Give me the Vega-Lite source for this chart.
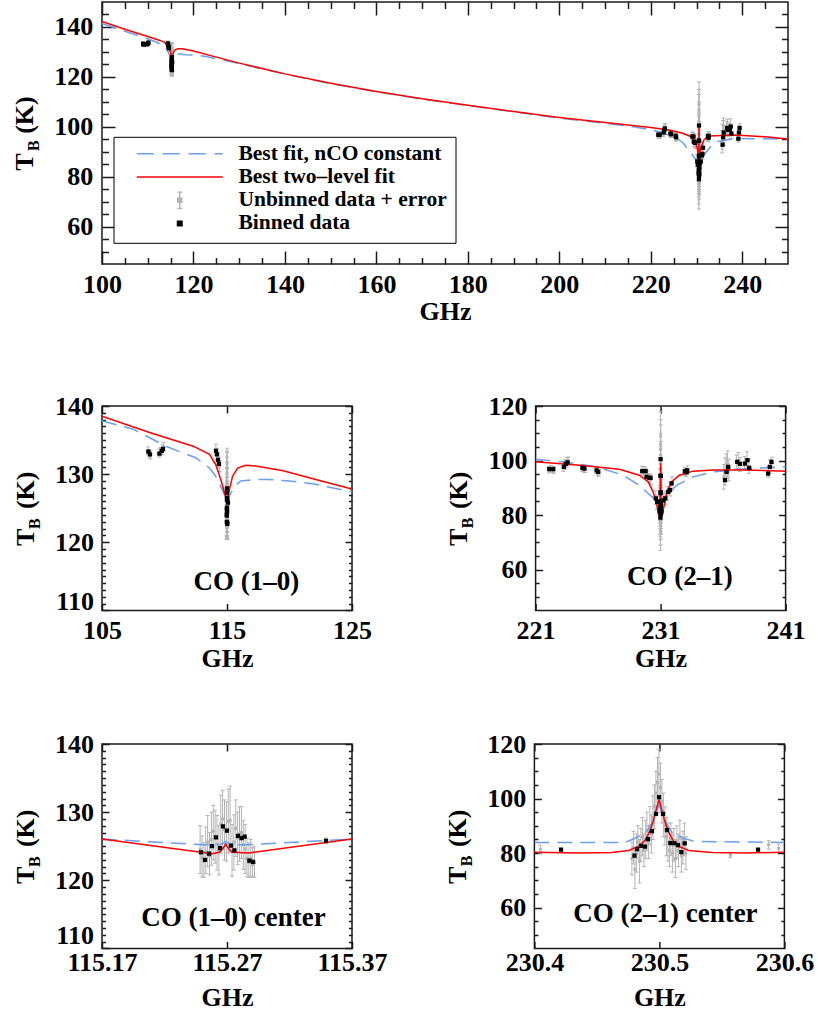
{
"$schema":"https://vega.github.io/schema/vega-lite/v6.json",
"padding":{"left":10,"top":0,"right":5,"bottom":0},
"config":{
 "font":"Liberation Serif",
 "view":{"stroke":"#1a1a1a","strokeWidth":1.5},
 "axis":{"labelFont":"Liberation Serif","labelFontSize":26,"labelFontWeight":"bold","labelColor":"#000","titleFont":"Liberation Serif","titleFontSize":26,"titleFontWeight":"bold","titleColor":"#000","domain":false,"tickColor":"#1a1a1a","tickWidth":1.5,"grid":false,"labelFlush":false,"labelOverlap":false},
 "text":{"font":"Liberation Serif"}
},
"datasets":{
"leg":[{"s":"Best fit, nCO constant"},{"s":"Best two–level fit"},{"s":"Unbinned data + error"},{"s":"Binned data"}],
"curves":[
{"p":"top","m":"n","f":100,"t":141.4},{"p":"top","m":"n","f":105,"t":138.3},{"p":"top","m":"n","f":110,"t":135.3},{"p":"top","m":"n","f":113.1,"t":133.0},{"p":"top","m":"n","f":114.0,"t":131.5},{"p":"top","m":"n","f":114.6,"t":129.5},{"p":"top","m":"n","f":115.0,"t":127.8},{"p":"top","m":"n","f":115.27,"t":126.5},{"p":"top","m":"n","f":115.5,"t":127.5},{"p":"top","m":"n","f":116.0,"t":128.6},{"p":"top","m":"n","f":116.6,"t":129.2},{"p":"top","m":"n","f":118.3,"t":128.9},{"p":"top","m":"n","f":120,"t":128.7},{"p":"top","m":"n","f":122.4,"t":128.3},{"p":"top","m":"n","f":125.27,"t":127.2},{"p":"top","m":"n","f":130,"t":125.3},{"p":"top","m":"n","f":140,"t":121.1},{"p":"top","m":"n","f":150,"t":117.3},{"p":"top","m":"n","f":160,"t":114.0},{"p":"top","m":"n","f":170,"t":111.1},{"p":"top","m":"n","f":180,"t":108.5},{"p":"top","m":"n","f":190,"t":106.0},{"p":"top","m":"n","f":200,"t":103.5},{"p":"top","m":"n","f":210,"t":101.4},{"p":"top","m":"n","f":215,"t":100.3},{"p":"top","m":"n","f":220.3,"t":98.7},{"p":"top","m":"n","f":225.3,"t":96.0},{"p":"top","m":"n","f":227.2,"t":93.3},{"p":"top","m":"n","f":228.3,"t":90.5},{"p":"top","m":"n","f":229.4,"t":88.0},{"p":"top","m":"n","f":229.9,"t":86.5},{"p":"top","m":"n","f":230.3,"t":84.5},{"p":"top","m":"n","f":230.5,"t":84.0},{"p":"top","m":"n","f":230.54,"t":97.7},{"p":"top","m":"n","f":230.58,"t":84.0},{"p":"top","m":"n","f":230.8,"t":84.5},{"p":"top","m":"n","f":231.2,"t":86.5},{"p":"top","m":"n","f":231.6,"t":88.7},{"p":"top","m":"n","f":232.6,"t":91.0},{"p":"top","m":"n","f":233.7,"t":93.3},{"p":"top","m":"n","f":234.2,"t":94.0},{"p":"top","m":"n","f":238.4,"t":95.3},{"p":"top","m":"n","f":250,"t":95.1},
{"p":"top","m":"r","f":100,"t":142.2},{"p":"top","m":"r","f":105,"t":139.1},{"p":"top","m":"r","f":110,"t":136.2},{"p":"top","m":"r","f":112.5,"t":134.7},{"p":"top","m":"r","f":113.7,"t":133.8},{"p":"top","m":"r","f":114.4,"t":132.6},{"p":"top","m":"r","f":114.8,"t":131.0},{"p":"top","m":"r","f":115.0,"t":129.6},{"p":"top","m":"r","f":115.15,"t":128.3},{"p":"top","m":"r","f":115.27,"t":127.5},{"p":"top","m":"r","f":115.4,"t":128.3},{"p":"top","m":"r","f":115.6,"t":129.8},{"p":"top","m":"r","f":116.0,"t":130.8},{"p":"top","m":"r","f":116.6,"t":131.3},{"p":"top","m":"r","f":117.5,"t":131.3},{"p":"top","m":"r","f":120,"t":130.4},{"p":"top","m":"r","f":125,"t":127.9},{"p":"top","m":"r","f":130,"t":125.5},{"p":"top","m":"r","f":140,"t":121.2},{"p":"top","m":"r","f":150,"t":117.4},{"p":"top","m":"r","f":160,"t":114.1},{"p":"top","m":"r","f":170,"t":111.2},{"p":"top","m":"r","f":180,"t":108.6},{"p":"top","m":"r","f":190,"t":106.1},{"p":"top","m":"r","f":200,"t":103.7},{"p":"top","m":"r","f":210,"t":101.7},{"p":"top","m":"r","f":220,"t":99.7},{"p":"top","m":"r","f":224,"t":98.7},{"p":"top","m":"r","f":226.8,"t":97.5},{"p":"top","m":"r","f":228.6,"t":96.2},{"p":"top","m":"r","f":229.7,"t":94.2},{"p":"top","m":"r","f":230.2,"t":91.0},{"p":"top","m":"r","f":230.45,"t":86.0},{"p":"top","m":"r","f":230.52,"t":82.0},{"p":"top","m":"r","f":230.54,"t":100.0},{"p":"top","m":"r","f":230.56,"t":82.0},{"p":"top","m":"r","f":230.63,"t":86.0},{"p":"top","m":"r","f":230.8,"t":90.9},{"p":"top","m":"r","f":231.6,"t":94.7},{"p":"top","m":"r","f":232.7,"t":96.3},{"p":"top","m":"r","f":238.4,"t":96.7},{"p":"top","m":"r","f":245,"t":96.0},{"p":"top","m":"r","f":250,"t":95.1},
{"p":"ml","m":"n","f":105.27,"t":137.8},{"p":"ml","m":"n","f":107.77,"t":136.6},{"p":"ml","m":"n","f":110.37,"t":134.1},{"p":"ml","m":"n","f":112.77,"t":132.4},{"p":"ml","m":"n","f":113.87,"t":130.9},{"p":"ml","m":"n","f":114.37,"t":129.7},{"p":"ml","m":"n","f":114.87,"t":127.8},{"p":"ml","m":"n","f":115.17,"t":126.5},{"p":"ml","m":"n","f":115.27,"t":125.4},{"p":"ml","m":"n","f":115.37,"t":126.5},{"p":"ml","m":"n","f":115.87,"t":128.2},{"p":"ml","m":"n","f":116.37,"t":129.0},{"p":"ml","m":"n","f":117.57,"t":129.2},{"p":"ml","m":"n","f":118.67,"t":129.2},{"p":"ml","m":"n","f":120.27,"t":129.0},{"p":"ml","m":"n","f":122.37,"t":128.5},{"p":"ml","m":"n","f":125.27,"t":127.4},
{"p":"ml","m":"r","f":105.27,"t":138.5},{"p":"ml","m":"r","f":109.07,"t":136.1},{"p":"ml","m":"r","f":112.57,"t":134.1},{"p":"ml","m":"r","f":113.87,"t":132.9},{"p":"ml","m":"r","f":114.37,"t":131.4},{"p":"ml","m":"r","f":114.77,"t":129.2},{"p":"ml","m":"r","f":115.07,"t":127.3},{"p":"ml","m":"r","f":115.2,"t":126.4},{"p":"ml","m":"r","f":115.27,"t":126.0},{"p":"ml","m":"r","f":115.35,"t":126.5},{"p":"ml","m":"r","f":115.47,"t":127.8},{"p":"ml","m":"r","f":115.72,"t":129.7},{"p":"ml","m":"r","f":116.12,"t":130.9},{"p":"ml","m":"r","f":116.77,"t":131.3},{"p":"ml","m":"r","f":117.57,"t":131.2},{"p":"ml","m":"r","f":119.77,"t":130.5},{"p":"ml","m":"r","f":122.37,"t":129.2},{"p":"ml","m":"r","f":125.27,"t":127.8},
{"p":"mr","m":"n","f":220.54,"t":100.5},{"p":"mr","m":"n","f":222.74,"t":99.5},{"p":"mr","m":"n","f":225.44,"t":97.7},{"p":"mr","m":"n","f":227.54,"t":94.6},{"p":"mr","m":"n","f":228.84,"t":90.9},{"p":"mr","m":"n","f":229.84,"t":86.7},{"p":"mr","m":"n","f":230.3,"t":84.5},{"p":"mr","m":"n","f":230.5,"t":84.0},{"p":"mr","m":"n","f":230.54,"t":97.7},{"p":"mr","m":"n","f":230.58,"t":84.0},{"p":"mr","m":"n","f":230.7,"t":84.8},{"p":"mr","m":"n","f":231.02,"t":87.3},{"p":"mr","m":"n","f":231.82,"t":90.9},{"p":"mr","m":"n","f":233.14,"t":94.0},{"p":"mr","m":"n","f":234.74,"t":95.8},{"p":"mr","m":"n","f":237.41,"t":97.0},{"p":"mr","m":"n","f":240.54,"t":97.7},
{"p":"mr","m":"r","f":220.54,"t":99.5},{"p":"mr","m":"r","f":224.04,"t":98.3},{"p":"mr","m":"r","f":227.24,"t":96.8},{"p":"mr","m":"r","f":228.84,"t":94.6},{"p":"mr","m":"r","f":229.54,"t":92.2},{"p":"mr","m":"r","f":229.94,"t":88.5},{"p":"mr","m":"r","f":230.24,"t":83.6},{"p":"mr","m":"r","f":230.4,"t":80.0},{"p":"mr","m":"r","f":230.5,"t":79.5},{"p":"mr","m":"r","f":230.54,"t":99.0},{"p":"mr","m":"r","f":230.58,"t":79.5},{"p":"mr","m":"r","f":230.62,"t":80.0},{"p":"mr","m":"r","f":230.84,"t":83.6},{"p":"mr","m":"r","f":231.04,"t":88.5},{"p":"mr","m":"r","f":231.44,"t":92.2},{"p":"mr","m":"r","f":232.04,"t":94.6},{"p":"mr","m":"r","f":233.14,"t":96.1},{"p":"mr","m":"r","f":234.74,"t":96.5},{"p":"mr","m":"r","f":237.44,"t":96.5},{"p":"mr","m":"r","f":240.54,"t":96.1},
{"p":"bl","m":"n","f":115.171,"t":126.05},{"p":"bl","m":"n","f":115.2529,"t":125.2},{"p":"bl","m":"n","f":115.265,"t":125.2},{"p":"bl","m":"n","f":115.2685,"t":125.5},{"p":"bl","m":"n","f":115.27,"t":125.7},{"p":"bl","m":"n","f":115.2715,"t":125.5},{"p":"bl","m":"n","f":115.275,"t":125.2},{"p":"bl","m":"n","f":115.2874,"t":125.2},{"p":"bl","m":"n","f":115.371,"t":126.05},
{"p":"bl","m":"r","f":115.171,"t":126.05},{"p":"bl","m":"r","f":115.2502,"t":124.1},{"p":"bl","m":"r","f":115.259,"t":123.9},{"p":"bl","m":"r","f":115.265,"t":124.1},{"p":"bl","m":"r","f":115.2675,"t":124.6},{"p":"bl","m":"r","f":115.27,"t":125.3},{"p":"bl","m":"r","f":115.2725,"t":124.6},{"p":"bl","m":"r","f":115.275,"t":124.1},{"p":"bl","m":"r","f":115.2888,"t":124.0},{"p":"bl","m":"r","f":115.371,"t":126.05},
{"p":"br","m":"n","f":230.44,"t":83.9},{"p":"br","m":"n","f":230.5128,"t":83.9},{"p":"br","m":"n","f":230.5208,"t":85.5},{"p":"br","m":"n","f":230.5288,"t":87.3},{"p":"br","m":"n","f":230.5341,"t":90.9},{"p":"br","m":"n","f":230.5373,"t":94.6},{"p":"br","m":"n","f":230.5397,"t":97.7},{"p":"br","m":"n","f":230.5421,"t":94.6},{"p":"br","m":"n","f":230.5453,"t":90.9},{"p":"br","m":"n","f":230.5506,"t":87.3},{"p":"br","m":"n","f":230.5586,"t":85.5},{"p":"br","m":"n","f":230.5688,"t":84.2},{"p":"br","m":"n","f":230.64,"t":83.9},
{"p":"br","m":"r","f":230.44,"t":80.3},{"p":"br","m":"r","f":230.4754,"t":80.0},{"p":"br","m":"r","f":230.5021,"t":80.2},{"p":"br","m":"r","f":230.5154,"t":80.9},{"p":"br","m":"r","f":230.5234,"t":82.4},{"p":"br","m":"r","f":230.5288,"t":84.8},{"p":"br","m":"r","f":230.5328,"t":88.5},{"p":"br","m":"r","f":230.5354,"t":92.2},{"p":"br","m":"r","f":230.5381,"t":97.0},{"p":"br","m":"r","f":230.5397,"t":99.5},{"p":"br","m":"r","f":230.5413,"t":97.0},{"p":"br","m":"r","f":230.544,"t":92.2},{"p":"br","m":"r","f":230.5466,"t":88.5},{"p":"br","m":"r","f":230.5506,"t":84.8},{"p":"br","m":"r","f":230.5554,"t":82.4},{"p":"br","m":"r","f":230.5634,"t":80.9},{"p":"br","m":"r","f":230.5821,"t":80.2},{"p":"br","m":"r","f":230.6088,"t":80.0},{"p":"br","m":"r","f":230.64,"t":80.3}
],
"unb":[
{"f":108.95,"t":133.4,"lo":132.8,"hi":134.0},{"f":109.05,"t":133.0,"lo":132.4,"hi":133.6},{"f":109.15,"t":132.8,"lo":132.2,"hi":133.4},{"f":109.85,"t":133.1,"lo":132.5,"hi":133.7},{"f":109.95,"t":133.3,"lo":132.7,"hi":133.9},{"f":110.1,"t":133.6,"lo":132.9,"hi":134.3},{"f":110.2,"t":134.0,"lo":133.3,"hi":134.7},
{"f":114.38,"t":133.6,"lo":132.8,"hi":134.4},{"f":114.45,"t":133.0,"lo":132.2,"hi":133.8},{"f":114.52,"t":132.3,"lo":131.5,"hi":133.1},{"f":114.6,"t":131.7,"lo":130.9,"hi":132.5},{"f":114.66,"t":131.2,"lo":130.4,"hi":132.0},
{"f":115.2495,"t":124.5,"lo":121.0,"hi":128.0},{"f":115.251,"t":123.3,"lo":120.5,"hi":126.5},{"f":115.2525,"t":122.8,"lo":120.4,"hi":125.5},{"f":115.254,"t":124.2,"lo":121.0,"hi":127.8},{"f":115.2555,"t":125.6,"lo":122.0,"hi":129.5},{"f":115.257,"t":123.6,"lo":120.8,"hi":127.0},{"f":115.2585,"t":126.0,"lo":122.2,"hi":130.0},{"f":115.26,"t":127.2,"lo":123.0,"hi":131.0},{"f":115.2615,"t":126.4,"lo":122.5,"hi":130.3},{"f":115.263,"t":125.3,"lo":121.5,"hi":129.5},{"f":115.2645,"t":124.2,"lo":120.8,"hi":128.0},{"f":115.266,"t":128.3,"lo":124.0,"hi":132.5},{"f":115.2675,"t":129.0,"lo":124.8,"hi":133.2},{"f":115.269,"t":127.4,"lo":123.0,"hi":131.8},{"f":115.2705,"t":127.2,"lo":122.8,"hi":131.5},{"f":115.272,"t":128.6,"lo":124.0,"hi":133.4},{"f":115.2735,"t":128.8,"lo":124.2,"hi":133.8},{"f":115.275,"t":124.3,"lo":120.6,"hi":128.2},{"f":115.2765,"t":125.6,"lo":121.5,"hi":129.6},{"f":115.278,"t":127.6,"lo":123.5,"hi":131.8},{"f":115.2795,"t":126.2,"lo":122.3,"hi":130.0},{"f":115.281,"t":126.8,"lo":122.8,"hi":130.8},{"f":115.2825,"t":127.0,"lo":123.2,"hi":130.8},{"f":115.284,"t":125.2,"lo":121.6,"hi":128.8},{"f":115.2855,"t":124.6,"lo":121.0,"hi":128.2},{"f":115.287,"t":123.2,"lo":120.5,"hi":126.2},{"f":115.2885,"t":122.6,"lo":120.4,"hi":125.5},{"f":115.29,"t":123.2,"lo":120.6,"hi":126.0},{"f":115.2915,"t":122.3,"lo":120.4,"hi":124.8},{"f":115.293,"t":122.6,"lo":120.5,"hi":125.0},
{"f":115.3502,"t":125.8,"lo":125.4,"hi":126.2},
{"f":221.6,"t":96.6,"lo":95.4,"hi":97.8},{"f":221.75,"t":97.0,"lo":95.8,"hi":98.2},{"f":221.9,"t":96.8,"lo":95.6,"hi":98.0},{"f":222.0,"t":96.5,"lo":95.3,"hi":97.7},
{"f":222.75,"t":97.5,"lo":96.0,"hi":99.0},{"f":222.9,"t":98.5,"lo":96.7,"hi":100.3},{"f":223.05,"t":99.3,"lo":97.5,"hi":101.1},{"f":223.15,"t":99.8,"lo":98.3,"hi":101.3},
{"f":224.25,"t":97.2,"lo":96.0,"hi":98.4},{"f":224.4,"t":97.0,"lo":95.7,"hi":98.3},{"f":224.5,"t":96.8,"lo":95.6,"hi":98.0},
{"f":225.4,"t":96.6,"lo":95.3,"hi":97.9},{"f":225.5,"t":96.0,"lo":94.5,"hi":97.5},{"f":225.6,"t":95.5,"lo":94.2,"hi":96.8},
{"f":229.05,"t":96.4,"lo":94.9,"hi":97.9},{"f":229.2,"t":96.0,"lo":94.2,"hi":97.8},{"f":229.35,"t":95.5,"lo":93.7,"hi":97.3},{"f":229.5,"t":94.2,"lo":92.2,"hi":96.2},{"f":229.65,"t":93.4,"lo":91.6,"hi":95.2},{"f":229.75,"t":93.0,"lo":91.2,"hi":94.8},
{"f":230.15,"t":86.4,"lo":83.9,"hi":88.9},{"f":230.25,"t":84.5,"lo":82.0,"hi":87.0},
{"f":230.4448,"t":81.4,"lo":79.9,"hi":82.9},
{"f":230.518,"t":78,"lo":72,"hi":84},{"f":230.5192,"t":82,"lo":76,"hi":88},{"f":230.5204,"t":74,"lo":67,"hi":81},{"f":230.5216,"t":80,"lo":73,"hi":87},{"f":230.5228,"t":84,"lo":78,"hi":90},{"f":230.524,"t":77,"lo":69,"hi":85},{"f":230.5252,"t":83,"lo":77,"hi":89},{"f":230.5264,"t":86,"lo":79,"hi":93},{"f":230.5276,"t":81,"lo":75,"hi":87},{"f":230.5288,"t":85,"lo":78,"hi":92},{"f":230.53,"t":88,"lo":81,"hi":95},{"f":230.5312,"t":84,"lo":78,"hi":90},{"f":230.5324,"t":90,"lo":83,"hi":97},{"f":230.5336,"t":87,"lo":80,"hi":94},{"f":230.5348,"t":93,"lo":85,"hi":101},{"f":230.536,"t":97,"lo":89,"hi":105},{"f":230.5372,"t":102,"lo":94,"hi":110},{"f":230.5384,"t":106,"lo":97,"hi":115},{"f":230.5396,"t":109,"lo":100,"hi":118},{"f":230.5408,"t":104,"lo":95,"hi":113},{"f":230.542,"t":99,"lo":91,"hi":107},{"f":230.5432,"t":94,"lo":86,"hi":102},{"f":230.5444,"t":90,"lo":83,"hi":97},{"f":230.5456,"t":86,"lo":79,"hi":93},{"f":230.5468,"t":84,"lo":77,"hi":91},{"f":230.548,"t":81,"lo":75,"hi":87},{"f":230.5492,"t":85,"lo":79,"hi":91},{"f":230.5504,"t":80,"lo":73,"hi":87},{"f":230.5516,"t":83,"lo":77,"hi":89},{"f":230.5528,"t":78,"lo":71,"hi":85},{"f":230.554,"t":84,"lo":78,"hi":90},{"f":230.5552,"t":81,"lo":75,"hi":87},{"f":230.5564,"t":86,"lo":80,"hi":92},{"f":230.5576,"t":79,"lo":73,"hi":85},{"f":230.5588,"t":82,"lo":76,"hi":88},{"f":230.56,"t":85,"lo":79,"hi":91},{"f":230.5612,"t":80,"lo":74,"hi":86},
{"f":230.5968,"t":79.3,"lo":78.3,"hi":80.3},{"f":230.6274,"t":83.0,"lo":81.5,"hi":84.5},{"f":230.6354,"t":81.7,"lo":80.2,"hi":83.2},
{"f":230.75,"t":85.5,"lo":83.0,"hi":88.0},{"f":230.9,"t":86.3,"lo":83.8,"hi":88.8},{"f":231.1,"t":88.0,"lo":85.5,"hi":90.5},{"f":231.3,"t":89.5,"lo":87.0,"hi":92.0},{"f":231.45,"t":91.5,"lo":89.0,"hi":94.0},
{"f":232.45,"t":96.0,"lo":94.5,"hi":97.5},{"f":232.6,"t":95.6,"lo":94.1,"hi":97.1},{"f":232.7,"t":96.6,"lo":95.1,"hi":98.1},
{"f":235.6,"t":94.0,"lo":89.5,"hi":98.5},{"f":235.7,"t":96.0,"lo":91.0,"hi":101.0},{"f":235.8,"t":97.5,"lo":92.5,"hi":102.5},{"f":235.9,"t":98.5,"lo":93.5,"hi":103.5},{"f":236.0,"t":96.5,"lo":92.5,"hi":100.5},
{"f":236.6,"t":99.5,"lo":97.0,"hi":102.0},{"f":236.75,"t":100.0,"lo":97.0,"hi":103.0},{"f":236.9,"t":98.5,"lo":96.0,"hi":101.0},{"f":237.25,"t":99.0,"lo":96.5,"hi":101.5},{"f":237.45,"t":100.2,"lo":97.2,"hi":103.2},{"f":237.6,"t":97.8,"lo":95.3,"hi":100.3},
{"f":239.15,"t":95.8,"lo":93.8,"hi":97.8},{"f":239.3,"t":97.8,"lo":95.3,"hi":100.3},{"f":239.45,"t":99.2,"lo":97.2,"hi":101.2}
],
"bin":[
{"f":108.98,"t":133.3},{"f":109.11,"t":132.9},{"f":109.86,"t":133.0},{"f":110.05,"t":133.4},{"f":110.15,"t":133.7},
{"f":114.39,"t":133.4},{"f":114.47,"t":132.9},{"f":114.55,"t":132.1},{"f":114.63,"t":131.5},
{"f":115.2502,"t":124.1},{"f":115.2534,"t":123.0},{"f":115.2566,"t":123.9},{"f":115.259,"t":125.0},{"f":115.2622,"t":126.3},{"f":115.2654,"t":124.7},{"f":115.2678,"t":127.9},{"f":115.271,"t":127.3},{"f":115.2742,"t":125.1},{"f":115.2769,"t":124.4},{"f":115.2798,"t":126.5},{"f":115.2827,"t":126.2},{"f":115.2851,"t":126.4},{"f":115.2889,"t":122.9},{"f":115.2918,"t":122.7},{"f":115.3502,"t":125.8},
{"f":221.63,"t":96.8},{"f":221.95,"t":96.8},{"f":222.8,"t":97.7},{"f":222.96,"t":98.8},{"f":223.1,"t":99.3},{"f":224.29,"t":97.3},{"f":224.45,"t":97.0},{"f":225.42,"t":96.4},{"f":225.55,"t":95.8},{"f":229.07,"t":96.1},{"f":229.34,"t":96.1},{"f":229.42,"t":94.0},{"f":229.63,"t":93.6},{"f":229.74,"t":93.6},{"f":230.16,"t":86.1},{"f":230.27,"t":84.8},
{"f":230.4613,"t":81.2},{"f":230.52,"t":79.0},{"f":230.5221,"t":81.4},{"f":230.5253,"t":82.6},{"f":230.5285,"t":82.3},{"f":230.5309,"t":85.1},{"f":230.5341,"t":88.0},{"f":230.5373,"t":94.4},{"f":230.5397,"t":100.5},{"f":230.5429,"t":94.4},{"f":230.5461,"t":88.4},{"f":230.5488,"t":83.6},{"f":230.552,"t":83.6},{"f":230.5549,"t":82.9},{"f":230.5576,"t":80.3},{"f":230.5602,"t":83.5},{"f":230.6189,"t":81.2},
{"f":230.75,"t":85.4},{"f":230.91,"t":86.1},{"f":231.15,"t":88.5},{"f":231.29,"t":89.1},{"f":231.42,"t":91.6},{"f":232.48,"t":96.1},{"f":232.62,"t":95.6},{"f":232.67,"t":96.4},{"f":235.69,"t":92.8},{"f":235.82,"t":95.8},{"f":235.95,"t":97.7},{"f":236.67,"t":99.5},{"f":236.88,"t":98.8},{"f":237.28,"t":98.9},{"f":237.49,"t":100.1},{"f":237.63,"t":97.3},{"f":239.14,"t":95.2},{"f":239.28,"t":97.7},{"f":239.41,"t":99.5}
]
},
"vconcat":[
{
 "width":686,"height":262,
 "layer":[
  {"data":{"name":"unb"},"mark":{"type":"rule","color":"#b4b4b4","strokeWidth":1,"clip":true},
   "encoding":{"x":{"field":"f","type":"quantitative","scale":{"domain":[100,250],"nice":false,"zero":false},"axis":{"orient":"bottom","values":[100,120,140,160,180,200,220,240],"format":"d","offset":-13,"tickSize":13,"labelPadding":7.8,"title":"GHz","titlePadding":1}},
    "y":{"field":"lo","type":"quantitative","scale":{"domain":[45,150],"nice":false,"zero":false},"axis":{"orient":"left","values":[60,80,100,120,140],"format":"d","offset":-13,"tickSize":13,"labelPadding":9.3,"title":"T\u00a0\u00a0\u00a0(K)","titlePadding":16}},
    "y2":{"field":"hi"}}},
  {"data":{"name":"unb"},"transform":[{"fold":["lo","hi"],"as":["k","v"]}],"mark":{"type":"point","shape":"M-1,0H1","size":16,"filled":false,"color":"#b4b4b4","strokeWidth":1,"opacity":1,"clip":true},
   "encoding":{"x":{"field":"f","type":"quantitative","scale":{"domain":[100,250],"nice":false,"zero":false},"axis":{"orient":"bottom","values":[105,110,115,125,130,135,145,150,155,165,170,175,185,190,195,205,210,215,225,230,235,245],"offset":-6.5,"tickSize":6.5,"labels":false,"title":null}},
    "y":{"field":"v","type":"quantitative","scale":{"domain":[45,150],"nice":false,"zero":false},"axis":{"orient":"left","values":[50,55,65,70,75,85,90,95,105,110,115,125,130,135,145],"offset":-6.5,"tickSize":6.5,"labels":false,"title":null}}}},
  {"data":{"name":"unb"},"mark":{"type":"square","size":9,"color":"#b4b4b4","opacity":1,"clip":true},
   "encoding":{"x":{"field":"f","type":"quantitative","scale":{"domain":[100,250],"nice":false,"zero":false},"axis":{"orient":"top","values":[100,120,140,160,180,200,220,240],"offset":-13,"tickSize":13,"labels":false,"title":null}},
    "y":{"field":"t","type":"quantitative","scale":{"domain":[45,150],"nice":false,"zero":false},"axis":{"orient":"right","values":[60,80,100,120,140],"offset":-13,"tickSize":13,"labels":false,"title":null}}}},
  {"data":{"name":"curves"},"transform":[{"filter":"datum.p=='top' && datum.m=='n'"}],"mark":{"type":"line","color":"#6a9ef0","strokeWidth":1.5,"strokeDash":[15,8],"clip":true},
   "encoding":{"x":{"field":"f","type":"quantitative","scale":{"domain":[100,250],"nice":false,"zero":false},"axis":{"orient":"top","values":[105,110,115,125,130,135,145,150,155,165,170,175,185,190,195,205,210,215,225,230,235,245],"offset":-6.5,"tickSize":6.5,"labels":false,"title":null}},
    "y":{"field":"t","type":"quantitative","scale":{"domain":[45,150],"nice":false,"zero":false},"axis":{"orient":"right","values":[50,55,65,70,75,85,90,95,105,110,115,125,130,135,145],"offset":-6.5,"tickSize":6.5,"labels":false,"title":null}}}},
  {"data":{"name":"curves"},"transform":[{"filter":"datum.p=='top' && datum.m=='r'"}],"mark":{"type":"line","color":"#ff0000","strokeWidth":1.5,"clip":true},
   "encoding":{"x":{"field":"f","type":"quantitative","scale":{"domain":[100,250],"nice":false,"zero":false},"axis":null},"y":{"field":"t","type":"quantitative","scale":{"domain":[45,150],"nice":false,"zero":false},"axis":null}}},
  {"data":{"name":"bin"},"mark":{"type":"square","size":18,"color":"#000","opacity":1,"clip":true},
   "encoding":{"x":{"field":"f","type":"quantitative","scale":{"domain":[100,250],"nice":false,"zero":false},"axis":null},"y":{"field":"t","type":"quantitative","scale":{"domain":[45,150],"nice":false,"zero":false},"axis":null}}},
  {"data":{"values":[{}]},"mark":{"type":"text","text":"B","angle":270,"fontSize":16,"fontWeight":"bold","font":"Liberation Serif","baseline":"alphabetic","align":"center","color":"#000"},
   "encoding":{"x":{"datum":86.22,"type":"quantitative","scale":{"domain":[100,250],"nice":false,"zero":false},"axis":null},"y":{"datum":92.4,"type":"quantitative","scale":{"domain":[45,150],"nice":false,"zero":false},"axis":null}}},
  {"data":{"name":"leg"},"mark":{"type":"point","filled":true,"opacity":0,"size":100},
   "encoding":{
    "fill":{"field":"s","type":"nominal","scale":{"domain":["Best fit, nCO constant","Best two–level fit","Unbinned data + error","Binned data"],"range":["#6a9ef0","#ff0000","#b4b4b4","#000000"]},
      "legend":{"title":null,"orient":"none","legendX":11.5,"legendY":134.8,"symbolSize":100,"symbolStrokeWidth":1.5,"symbolOffset":47.5,"labelOffset":47.9,"labelFont":"Liberation Serif","labelFontSize":21.5,"labelFontWeight":"bold","labelColor":"#000","labelLimit":500,"padding":8,"rowPadding":1.2,"clipHeight":18,"strokeColor":"#000","fillColor":"#fff","symbolOpacity":1}},
    "stroke":{"field":"s","type":"nominal","scale":{"domain":["Best fit, nCO constant","Best two–level fit","Unbinned data + error","Binned data"],"range":["#6a9ef0","#ff0000","#b4b4b4","#000000"]},
      "legend":{"title":null,"orient":"none","legendX":11.5,"legendY":134.8,"symbolSize":100,"symbolStrokeWidth":1.5,"symbolOffset":47.5,"labelOffset":47.9,"labelFont":"Liberation Serif","labelFontSize":21.5,"labelFontWeight":"bold","labelColor":"#000","labelLimit":500,"padding":8,"rowPadding":1.2,"clipHeight":18,"strokeColor":"#000","fillColor":"#fff","symbolOpacity":1}},
    "shape":{"field":"s","type":"nominal","scale":{"domain":["Best fit, nCO constant","Best two–level fit","Unbinned data + error","Binned data"],"range":["M-8.6,0H-5.2M-3.4,0H0M1.8,0H5.2M7,0H8.6","M-8.6,0H8.6","M0,-1.66V1.66M-0.5,-1.66H0.5M-0.5,1.66H0.5M-0.4,-0.4H0.4V0.4H-0.4Z","M-0.45,-0.45H0.45V0.45H-0.45Z"]},
      "legend":{"title":null,"orient":"none","legendX":11.5,"legendY":134.8,"symbolSize":100,"symbolStrokeWidth":1.5,"symbolOffset":47.5,"labelOffset":47.9,"labelFont":"Liberation Serif","labelFontSize":21.5,"labelFontWeight":"bold","labelColor":"#000","labelLimit":500,"padding":8,"rowPadding":1.2,"clipHeight":18,"strokeColor":"#000","fillColor":"#fff","symbolOpacity":1}}
   }}
 ],
 "resolve":{"axis":{"x":"independent","y":"independent"}}
},
{
 "vconcat":[
  {
   "hconcat":[
    {
     "width":250,"height":204.4,
     "layer":[
      {"data":{"name":"unb"},"mark":{"type":"rule","color":"#b4b4b4","strokeWidth":1,"clip":true},
       "encoding":{"x":{"field":"f","type":"quantitative","scale":{"domain":[105.27,125.27],"nice":false,"zero":false},"axis":{"orient":"bottom","values":[105.27,115.27,125.27],"format":".0f","offset":-7,"tickSize":7,"labelPadding":7,"title":"GHz","titlePadding":2}},
        "y":{"field":"lo","type":"quantitative","scale":{"domain":[110,140],"nice":false,"zero":false},"axis":{"orient":"left","values":[110,120,130,140],"format":"d","offset":-7,"tickSize":7,"labelPadding":8.6,"labelExpr":"datum.value === 110 ? '' : datum.label","title":"T\u00a0\u00a0\u00a0(K)","titlePadding":16}},
        "y2":{"field":"hi"}}},
      {"data":{"name":"unb"},"transform":[{"fold":["lo","hi"],"as":["k","v"]}],"mark":{"type":"point","shape":"M-1,0H1","size":16,"filled":false,"color":"#b4b4b4","strokeWidth":1,"opacity":1,"clip":true},
       "encoding":{"x":{"field":"f","type":"quantitative","scale":{"domain":[105.27,125.27],"nice":false,"zero":false},"axis":{"orient":"top","values":[105.27,115.27,125.27],"offset":-7,"tickSize":7,"labels":false,"title":null}},
        "y":{"field":"v","type":"quantitative","scale":{"domain":[110,140],"nice":false,"zero":false},"axis":{"orient":"left","values":[111,112,113,114,115,116,117,118,119,121,122,123,124,125,126,127,128,129,131,132,133,134,135,136,137,138,139],"offset":-3.5,"tickSize":3.5,"labels":false,"title":null}}}},
      {"data":{"name":"unb"},"mark":{"type":"square","size":9,"color":"#b4b4b4","opacity":1,"clip":true},
       "encoding":{"x":{"field":"f","type":"quantitative","scale":{"domain":[105.27,125.27],"nice":false,"zero":false},"axis":null},
        "y":{"field":"t","type":"quantitative","scale":{"domain":[110,140],"nice":false,"zero":false},"axis":{"orient":"right","values":[110,120,130,140],"offset":-7,"tickSize":7,"labels":false,"title":null}}}},
      {"data":{"name":"curves"},"transform":[{"filter":"datum.p=='ml' && datum.m=='n'"}],"mark":{"type":"line","color":"#6a9ef0","strokeWidth":1.5,"strokeDash":[15,8],"clip":true},
       "encoding":{"x":{"field":"f","type":"quantitative","scale":{"domain":[105.27,125.27],"nice":false,"zero":false},"axis":null},
        "y":{"field":"t","type":"quantitative","scale":{"domain":[110,140],"nice":false,"zero":false},"axis":{"orient":"right","values":[111,112,113,114,115,116,117,118,119,121,122,123,124,125,126,127,128,129,131,132,133,134,135,136,137,138,139],"offset":-3.5,"tickSize":3.5,"labels":false,"title":null}}}},
      {"data":{"name":"curves"},"transform":[{"filter":"datum.p=='ml' && datum.m=='r'"}],"mark":{"type":"line","color":"#ff0000","strokeWidth":1.5,"clip":true},
       "encoding":{"x":{"field":"f","type":"quantitative","scale":{"domain":[105.27,125.27],"nice":false,"zero":false},"axis":null},"y":{"field":"t","type":"quantitative","scale":{"domain":[110,140],"nice":false,"zero":false},"axis":{"orient":"left","values":[110],"format":"d","ticks":false,"labelPadding":8.6,"labelOffset":-9,"title":null}}}},
      {"data":{"name":"bin"},"mark":{"type":"square","size":18,"color":"#000","opacity":1,"clip":true},
       "encoding":{"x":{"field":"f","type":"quantitative","scale":{"domain":[105.27,125.27],"nice":false,"zero":false},"axis":null},"y":{"field":"t","type":"quantitative","scale":{"domain":[110,140],"nice":false,"zero":false},"axis":null}}},
      {"data":{"values":[{}]},"mark":{"type":"text","text":"CO (1–0)","fontSize":27,"fontWeight":"bold","font":"Liberation Serif","baseline":"middle","align":"center","color":"#000"},
       "encoding":{"x":{"datum":116.82,"type":"quantitative","scale":{"domain":[105.27,125.27],"nice":false,"zero":false},"axis":null},"y":{"datum":114.2,"type":"quantitative","scale":{"domain":[110,140],"nice":false,"zero":false},"axis":null}}},
      {"data":{"values":[{}]},"mark":{"type":"text","text":"B","angle":270,"fontSize":16,"fontWeight":"bold","font":"Liberation Serif","baseline":"alphabetic","align":"center","color":"#000"},
       "encoding":{"x":{"datum":100.29,"type":"quantitative","scale":{"domain":[105.27,125.27],"nice":false,"zero":false},"axis":null},"y":{"datum":122.72,"type":"quantitative","scale":{"domain":[110,140],"nice":false,"zero":false},"axis":null}}}
     ],
     "resolve":{"axis":{"x":"independent","y":"independent"}}
    },
    {
     "width":250,"height":204.4,
     "layer":[
      {"data":{"name":"unb"},"mark":{"type":"rule","color":"#b4b4b4","strokeWidth":1,"clip":true},
       "encoding":{"x":{"field":"f","type":"quantitative","scale":{"domain":[220.54,240.54],"nice":false,"zero":false},"axis":{"orient":"bottom","values":[220.54,230.54,240.54],"format":".0f","offset":-7,"tickSize":7,"labelPadding":7,"title":"GHz","titlePadding":2}},
        "y":{"field":"lo","type":"quantitative","scale":{"domain":[45,120],"nice":false,"zero":false},"axis":{"orient":"left","values":[60,80,100,120],"format":"d","offset":-7,"tickSize":7,"labelPadding":8.6,"title":"T\u00a0\u00a0\u00a0(K)","titlePadding":16}},
        "y2":{"field":"hi"}}},
      {"data":{"name":"unb"},"transform":[{"fold":["lo","hi"],"as":["k","v"]}],"mark":{"type":"point","shape":"M-1,0H1","size":16,"filled":false,"color":"#b4b4b4","strokeWidth":1,"opacity":1,"clip":true},
       "encoding":{"x":{"field":"f","type":"quantitative","scale":{"domain":[220.54,240.54],"nice":false,"zero":false},"axis":{"orient":"top","values":[220.54,230.54,240.54],"offset":-7,"tickSize":7,"labels":false,"title":null}},
        "y":{"field":"v","type":"quantitative","scale":{"domain":[45,120],"nice":false,"zero":false},"axis":{"orient":"left","values":[50,55,65,70,75,85,90,95,105,110,115],"offset":-3.5,"tickSize":3.5,"labels":false,"title":null}}}},
      {"data":{"name":"unb"},"mark":{"type":"square","size":9,"color":"#b4b4b4","opacity":1,"clip":true},
       "encoding":{"x":{"field":"f","type":"quantitative","scale":{"domain":[220.54,240.54],"nice":false,"zero":false},"axis":null},
        "y":{"field":"t","type":"quantitative","scale":{"domain":[45,120],"nice":false,"zero":false},"axis":{"orient":"right","values":[60,80,100,120],"offset":-7,"tickSize":7,"labels":false,"title":null}}}},
      {"data":{"name":"curves"},"transform":[{"filter":"datum.p=='mr' && datum.m=='n'"}],"mark":{"type":"line","color":"#6a9ef0","strokeWidth":1.5,"strokeDash":[15,8],"clip":true},
       "encoding":{"x":{"field":"f","type":"quantitative","scale":{"domain":[220.54,240.54],"nice":false,"zero":false},"axis":null},
        "y":{"field":"t","type":"quantitative","scale":{"domain":[45,120],"nice":false,"zero":false},"axis":{"orient":"right","values":[50,55,65,70,75,85,90,95,105,110,115],"offset":-3.5,"tickSize":3.5,"labels":false,"title":null}}}},
      {"data":{"name":"curves"},"transform":[{"filter":"datum.p=='mr' && datum.m=='r'"}],"mark":{"type":"line","color":"#ff0000","strokeWidth":1.5,"clip":true},
       "encoding":{"x":{"field":"f","type":"quantitative","scale":{"domain":[220.54,240.54],"nice":false,"zero":false},"axis":null},"y":{"field":"t","type":"quantitative","scale":{"domain":[45,120],"nice":false,"zero":false},"axis":null}}},
      {"data":{"name":"bin"},"mark":{"type":"square","size":18,"color":"#000","opacity":1,"clip":true},
       "encoding":{"x":{"field":"f","type":"quantitative","scale":{"domain":[220.54,240.54],"nice":false,"zero":false},"axis":null},"y":{"field":"t","type":"quantitative","scale":{"domain":[45,120],"nice":false,"zero":false},"axis":null}}},
      {"data":{"values":[{}]},"mark":{"type":"text","text":"CO (2–1)","fontSize":27,"fontWeight":"bold","font":"Liberation Serif","baseline":"middle","align":"center","color":"#000"},
       "encoding":{"x":{"datum":232.08,"type":"quantitative","scale":{"domain":[220.54,240.54],"nice":false,"zero":false},"axis":null},"y":{"datum":57.4,"type":"quantitative","scale":{"domain":[45,120],"nice":false,"zero":false},"axis":null}}},
      {"data":{"values":[{}]},"mark":{"type":"text","text":"B","angle":270,"fontSize":16,"fontWeight":"bold","font":"Liberation Serif","baseline":"alphabetic","align":"center","color":"#000"},
       "encoding":{"x":{"datum":215.56,"type":"quantitative","scale":{"domain":[220.54,240.54],"nice":false,"zero":false},"axis":null},"y":{"datum":77.14,"type":"quantitative","scale":{"domain":[45,120],"nice":false,"zero":false},"axis":null}}}
     ],
     "resolve":{"axis":{"x":"independent","y":"independent"}}
    }
   ],
   "spacing":71.6
  },
  {
   "hconcat":[
    {
     "width":250,"height":204.4,
     "layer":[
      {"data":{"name":"unb"},"mark":{"type":"rule","color":"#b4b4b4","strokeWidth":1,"clip":true},
       "encoding":{"x":{"field":"f","type":"quantitative","scale":{"domain":[115.171,115.371],"nice":false,"zero":false},"axis":{"orient":"bottom","values":[115.171,115.271,115.371],"format":".2f","offset":-7,"tickSize":7,"labelPadding":1,"title":"GHz","titlePadding":9}},
        "y":{"field":"lo","type":"quantitative","scale":{"domain":[110,140],"nice":false,"zero":false},"axis":{"orient":"left","values":[110,120,130,140],"format":"d","offset":-7,"tickSize":7,"labelPadding":8.6,"labelExpr":"datum.value === 110 ? '' : datum.label","title":"T\u00a0\u00a0\u00a0(K)","titlePadding":16}},
        "y2":{"field":"hi"}}},
      {"data":{"name":"unb"},"transform":[{"fold":["lo","hi"],"as":["k","v"]}],"mark":{"type":"point","shape":"M-1,0H1","size":16,"filled":false,"color":"#b4b4b4","strokeWidth":1,"opacity":1,"clip":true},
       "encoding":{"x":{"field":"f","type":"quantitative","scale":{"domain":[115.171,115.371],"nice":false,"zero":false},"axis":{"orient":"top","values":[115.171,115.271,115.371],"offset":-7,"tickSize":7,"labels":false,"title":null}},
        "y":{"field":"v","type":"quantitative","scale":{"domain":[110,140],"nice":false,"zero":false},"axis":{"orient":"left","values":[111,112,113,114,115,116,117,118,119,121,122,123,124,125,126,127,128,129,131,132,133,134,135,136,137,138,139],"offset":-3.5,"tickSize":3.5,"labels":false,"title":null}}}},
      {"data":{"name":"unb"},"mark":{"type":"square","size":9,"color":"#b4b4b4","opacity":1,"clip":true},
       "encoding":{"x":{"field":"f","type":"quantitative","scale":{"domain":[115.171,115.371],"nice":false,"zero":false},"axis":null},
        "y":{"field":"t","type":"quantitative","scale":{"domain":[110,140],"nice":false,"zero":false},"axis":{"orient":"right","values":[110,120,130,140],"offset":-7,"tickSize":7,"labels":false,"title":null}}}},
      {"data":{"name":"curves"},"transform":[{"filter":"datum.p=='bl' && datum.m=='n'"}],"mark":{"type":"line","color":"#6a9ef0","strokeWidth":1.5,"strokeDash":[15,8],"clip":true},
       "encoding":{"x":{"field":"f","type":"quantitative","scale":{"domain":[115.171,115.371],"nice":false,"zero":false},"axis":null},
        "y":{"field":"t","type":"quantitative","scale":{"domain":[110,140],"nice":false,"zero":false},"axis":{"orient":"right","values":[111,112,113,114,115,116,117,118,119,121,122,123,124,125,126,127,128,129,131,132,133,134,135,136,137,138,139],"offset":-3.5,"tickSize":3.5,"labels":false,"title":null}}}},
      {"data":{"name":"curves"},"transform":[{"filter":"datum.p=='bl' && datum.m=='r'"}],"mark":{"type":"line","color":"#ff0000","strokeWidth":1.5,"clip":true},
       "encoding":{"x":{"field":"f","type":"quantitative","scale":{"domain":[115.171,115.371],"nice":false,"zero":false},"axis":null},"y":{"field":"t","type":"quantitative","scale":{"domain":[110,140],"nice":false,"zero":false},"axis":{"orient":"left","values":[110],"format":"d","ticks":false,"labelPadding":8.6,"labelOffset":-12.5,"title":null}}}},
      {"data":{"name":"bin"},"mark":{"type":"square","size":18,"color":"#000","opacity":1,"clip":true},
       "encoding":{"x":{"field":"f","type":"quantitative","scale":{"domain":[115.171,115.371],"nice":false,"zero":false},"axis":null},"y":{"field":"t","type":"quantitative","scale":{"domain":[110,140],"nice":false,"zero":false},"axis":null}}},
      {"data":{"values":[{}]},"mark":{"type":"text","text":"CO (1–0) center","fontSize":27,"fontWeight":"bold","font":"Liberation Serif","baseline":"middle","align":"center","color":"#000"},
       "encoding":{"x":{"datum":115.2762,"type":"quantitative","scale":{"domain":[115.171,115.371],"nice":false,"zero":false},"axis":null},"y":{"datum":114.45,"type":"quantitative","scale":{"domain":[110,140],"nice":false,"zero":false},"axis":null}}},
      {"data":{"values":[{}]},"mark":{"type":"text","text":"B","angle":270,"fontSize":16,"fontWeight":"bold","font":"Liberation Serif","baseline":"alphabetic","align":"center","color":"#000"},
       "encoding":{"x":{"datum":115.1212,"type":"quantitative","scale":{"domain":[115.171,115.371],"nice":false,"zero":false},"axis":null},"y":{"datum":122.72,"type":"quantitative","scale":{"domain":[110,140],"nice":false,"zero":false},"axis":null}}}
     ],
     "resolve":{"axis":{"x":"independent","y":"independent"}}
    },
    {
     "width":250,"height":204.4,
     "layer":[
      {"data":{"name":"unb"},"mark":{"type":"rule","color":"#b4b4b4","strokeWidth":1,"clip":true},
       "encoding":{"x":{"field":"f","type":"quantitative","scale":{"domain":[230.44,230.64],"nice":false,"zero":false},"axis":{"orient":"bottom","values":[230.44,230.54,230.64],"format":".1f","offset":-7,"tickSize":7,"labelPadding":1,"title":"GHz","titlePadding":9}},
        "y":{"field":"lo","type":"quantitative","scale":{"domain":[45,120],"nice":false,"zero":false},"axis":{"orient":"left","values":[60,80,100,120],"format":"d","offset":-7,"tickSize":7,"labelPadding":8.6,"title":"T\u00a0\u00a0\u00a0(K)","titlePadding":16}},
        "y2":{"field":"hi"}}},
      {"data":{"name":"unb"},"transform":[{"fold":["lo","hi"],"as":["k","v"]}],"mark":{"type":"point","shape":"M-1,0H1","size":16,"filled":false,"color":"#b4b4b4","strokeWidth":1,"opacity":1,"clip":true},
       "encoding":{"x":{"field":"f","type":"quantitative","scale":{"domain":[230.44,230.64],"nice":false,"zero":false},"axis":{"orient":"top","values":[230.44,230.54,230.64],"offset":-7,"tickSize":7,"labels":false,"title":null}},
        "y":{"field":"v","type":"quantitative","scale":{"domain":[45,120],"nice":false,"zero":false},"axis":{"orient":"left","values":[50,55,65,70,75,85,90,95,105,110,115],"offset":-3.5,"tickSize":3.5,"labels":false,"title":null}}}},
      {"data":{"name":"unb"},"mark":{"type":"square","size":9,"color":"#b4b4b4","opacity":1,"clip":true},
       "encoding":{"x":{"field":"f","type":"quantitative","scale":{"domain":[230.44,230.64],"nice":false,"zero":false},"axis":null},
        "y":{"field":"t","type":"quantitative","scale":{"domain":[45,120],"nice":false,"zero":false},"axis":{"orient":"right","values":[60,80,100,120],"offset":-7,"tickSize":7,"labels":false,"title":null}}}},
      {"data":{"name":"curves"},"transform":[{"filter":"datum.p=='br' && datum.m=='n'"}],"mark":{"type":"line","color":"#6a9ef0","strokeWidth":1.5,"strokeDash":[15,8],"clip":true},
       "encoding":{"x":{"field":"f","type":"quantitative","scale":{"domain":[230.44,230.64],"nice":false,"zero":false},"axis":null},
        "y":{"field":"t","type":"quantitative","scale":{"domain":[45,120],"nice":false,"zero":false},"axis":{"orient":"right","values":[50,55,65,70,75,85,90,95,105,110,115],"offset":-3.5,"tickSize":3.5,"labels":false,"title":null}}}},
      {"data":{"name":"curves"},"transform":[{"filter":"datum.p=='br' && datum.m=='r'"}],"mark":{"type":"line","color":"#ff0000","strokeWidth":1.5,"clip":true},
       "encoding":{"x":{"field":"f","type":"quantitative","scale":{"domain":[230.44,230.64],"nice":false,"zero":false},"axis":null},"y":{"field":"t","type":"quantitative","scale":{"domain":[45,120],"nice":false,"zero":false},"axis":null}}},
      {"data":{"name":"bin"},"mark":{"type":"square","size":18,"color":"#000","opacity":1,"clip":true},
       "encoding":{"x":{"field":"f","type":"quantitative","scale":{"domain":[230.44,230.64],"nice":false,"zero":false},"axis":null},"y":{"field":"t","type":"quantitative","scale":{"domain":[45,120],"nice":false,"zero":false},"axis":null}}},
      {"data":{"values":[{}]},"mark":{"type":"text","text":"CO (2–1) center","fontSize":27,"fontWeight":"bold","font":"Liberation Serif","baseline":"middle","align":"center","color":"#000"},
       "encoding":{"x":{"datum":230.5448,"type":"quantitative","scale":{"domain":[230.44,230.64],"nice":false,"zero":false},"axis":null},"y":{"datum":57.7,"type":"quantitative","scale":{"domain":[45,120],"nice":false,"zero":false},"axis":null}}},
      {"data":{"values":[{}]},"mark":{"type":"text","text":"B","angle":270,"fontSize":16,"fontWeight":"bold","font":"Liberation Serif","baseline":"alphabetic","align":"center","color":"#000"},
       "encoding":{"x":{"datum":230.3902,"type":"quantitative","scale":{"domain":[230.44,230.64],"nice":false,"zero":false},"axis":null},"y":{"datum":77.14,"type":"quantitative","scale":{"domain":[45,120],"nice":false,"zero":false},"axis":null}}}
     ],
     "resolve":{"axis":{"x":"independent","y":"independent"}}
    }
   ],
   "spacing":55.4
  }
 ],
 "spacing":57
}
],
"spacing":66
}
